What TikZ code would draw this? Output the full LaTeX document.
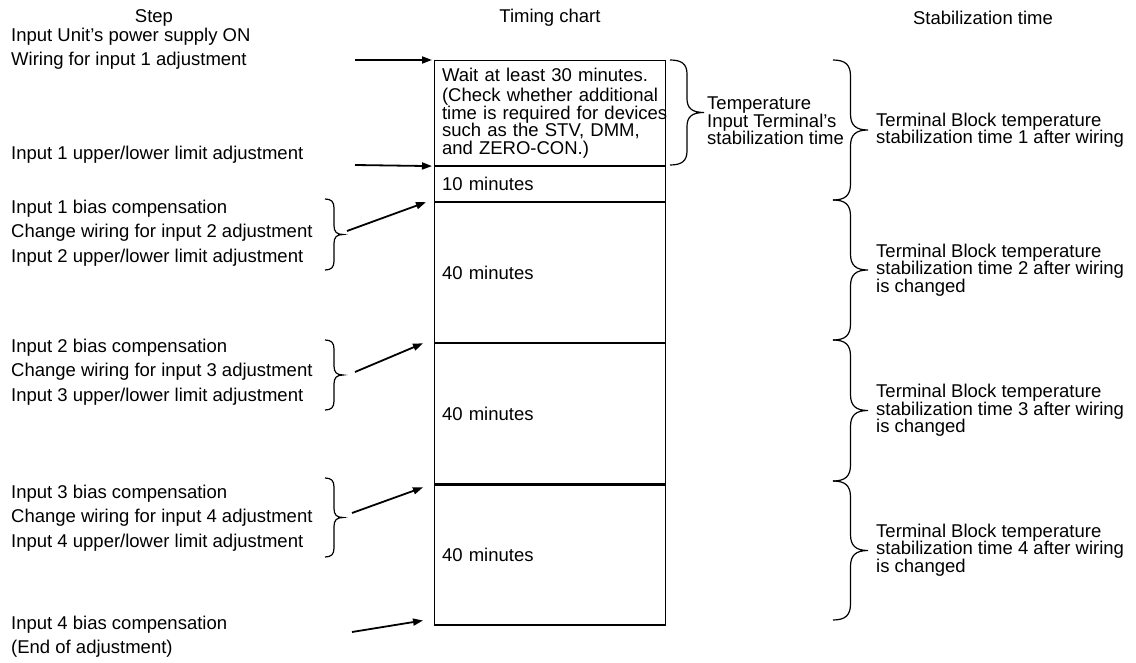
\documentclass[tikz,border=0pt]{standalone}
\usepackage{fontspec}
\setmainfont{Liberation Sans}
\usetikzlibrary{positioning,arrows.meta}

\tikzset{
  row/.style={draw, line width=1.1pt, anchor=north west, minimum width=231pt,
    text width=216pt, inner xsep=7.5pt, align=left, font=\fontsize{18.5}{17.5}\selectfont},
  lbl/.style={anchor=west, align=left, inner sep=0pt, font=\fontsize{18.5}{24.5}\selectfont},
  note/.style={anchor=west, align=left, inner sep=0pt, font=\fontsize{18.5}{17.5}\selectfont},
  head/.style={font=\fontsize{18.5}{20}\selectfont},
  feed/.style={line width=1.8pt, -{Triangle[length=10pt,width=7pt]}},
  brcline/.style={line width=1.2pt},
}

% right-pointing brace: x, top, bottom, half width, curl length
\newcommand\timebrace[5]{%
  \draw[brcline] ({#1},{#2}) .. controls ({#1+0.7*#4},{#2}) and ({#1+#4},{#2+0.3*#5}) .. ({#1+#4},{#2+#5})
    -- ({#1+#4},{(#2+#3)/2-#5}) .. controls ({#1+#4},{(#2+#3)/2-0.3*#5}) and ({#1+1.3*#4},{(#2+#3)/2}) .. ({#1+2*#4},{(#2+#3)/2})
    .. controls ({#1+1.3*#4},{(#2+#3)/2}) and ({#1+#4},{(#2+#3)/2+0.3*#5}) .. ({#1+#4},{(#2+#3)/2+#5})
    -- ({#1+#4},{#3-#5}) .. controls ({#1+#4},{#3-0.3*#5}) and ({#1+0.7*#4},{#3}) .. ({#1},{#3});}

\begin{document}
\begin{tikzpicture}[x=1pt, y=-1pt, node distance=0pt]
  \useasboundingbox (0,0) rectangle (1136,663);

  % column heads
  \node[head] (hstep) at (154,18) {Step};
  \node[head] (hchart) at (550,18) {Timing chart};
  \node[head] (hstab) at (983,18) {Stabilization time};

  % timing chart
  \node[row, minimum height=105pt] (r0) at (434,60)
    {Wait at least 30 minutes.\\[3pt](Check whether additional\\\mbox{time is required for devices}\\such as the STV, DMM,\\and ZERO-CON.)};
  \node[row, minimum height=35pt, below=of r0] (r1) {10 minutes};
  \node[row, minimum height=140pt, below=of r1] (r2) {40 minutes};
  \node[row, minimum height=140pt, below=of r2] (r3) {40 minutes};
  \node[row, minimum height=140pt, below=of r3] (r4) {40 minutes};

  % steps
  \node[lbl] (s1) at (11,48.5) {Input Unit’s power supply ON\\Wiring for input 1 adjustment};
  \node[lbl] (s2) at (11,155) {Input 1 upper/lower limit adjustment};
  \node[lbl] (s3) at (11,233) {Input 1 bias compensation\\Change wiring for input 2 adjustment\\Input 2 upper/lower limit adjustment};
  \node[lbl] (s4) at (11,372) {Input 2 bias compensation\\Change wiring for input 3 adjustment\\Input 3 upper/lower limit adjustment};
  \node[lbl] (s5) at (11,518) {Input 3 bias compensation\\Change wiring for input 4 adjustment\\Input 4 upper/lower limit adjustment};
  \node[lbl] (s6) at (11,636.5) {Input 4 bias compensation\\(End of adjustment)};

  \timebrace{325}{199}{270}{9}{9}
  \timebrace{325}{340}{410}{9}{9}
  \timebrace{325}{478}{557}{9}{9}

  % arrows into the chart
  \coordinate (a1) at (355,60);
  \coordinate (a2) at (355,165);
  \coordinate (a3) at (347,231);
  \coordinate (a4) at (355,372);
  \coordinate (a5) at (352,513);
  \coordinate (a6) at (352,632);
  \draw[feed] (a1) -- ([xshift=-2pt]r0.north west);
  \draw[feed] (a2) -- ([xshift=-2pt]r1.north west);
  \draw[feed] (a3) -- ([xshift=-8pt]r2.north west);
  \draw[feed] (a4) -- ([xshift=-11pt]r3.north west);
  \draw[feed] (a5) -- ([xshift=-11pt,yshift=-3pt]r4.north west);
  \draw[feed] (a6) -- ([xshift=-11pt,yshift=5pt]r4.south west);

  % stabilization times
  \timebrace{670}{60}{165}{17}{14}
  \node[note] (t0) at (707,121) {Temperature\\Input Terminal’s\\stabilization time};

  \timebrace{833}{60}{200}{17.5}{16}
  \timebrace{833}{200}{340}{17.5}{16}
  \timebrace{833}{340}{481}{17.5}{16}
  \timebrace{833}{481}{620}{17.5}{16}
  \node[note] (t1) at (876,130) {Terminal Block temperature\\stabilization time 1 after wiring};
  \node[note] (t2) at (876,270) {Terminal Block temperature\\stabilization time 2 after wiring\\is changed};
  \node[note] (t3) at (876,410.5) {Terminal Block temperature\\stabilization time 3 after wiring\\is changed};
  \node[note] (t4) at (876,550) {Terminal Block temperature\\stabilization time 4 after wiring\\is changed};
\end{tikzpicture}
\end{document}
